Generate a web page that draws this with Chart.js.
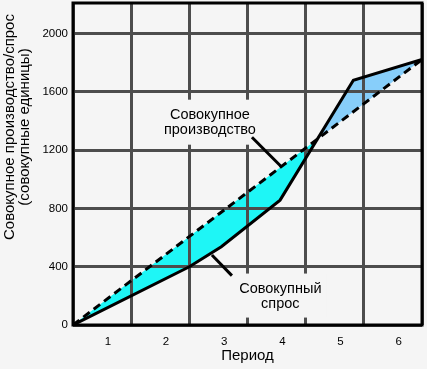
<!DOCTYPE html>
<html>
<head>
<meta charset="utf-8">
<script src="https://cdn.jsdelivr.net/npm/chart.js@4.4.0/dist/chart.umd.min.js"></script>
<style>
html, body { margin: 0; padding: 0; background: #f5f5f5; }
canvas { display: block; }
</style>
</head>
<body>
<canvas id="chart" width="427" height="369"></canvas>
<script>
// periods shown under the x axis (between grid lines)
const periods = ['1', '2', '3', '4', '5', '6'];
const yTicks = [0, 400, 800, 1200, 1600, 2000];

// aggregate production: straight dashed line
const productionX = [0, 6];
const productionY = [0, 1822];

// aggregate demand: solid broken line
const demandX = [0, 2, 2.55, 3.56, 4.82, 6];
const demandY = [0, 400, 537, 857, 1680, 1822];

const FONT = 'Liberation Sans, Arial, sans-serif';
const BG = '#f5f5f5';
const GRID = '#4d4d4d';

// callouts, anchored in data units
const notes = [
  { lines: ['Совокупное', 'производство'], x: 2.354, y: 1392, w: 100, h: 45,
    from: [3.076, 1289], to: [3.591, 1083] },
  { lines: ['Совокупный', 'спрос'], x: 3.565, y: 202, w: 92, h: 44,
    from: [2.388, 480], to: [2.732, 339] }
];

const calloutPlugin = {
  id: 'callouts',
  beforeDatasetsDraw(chart) {
    const ctx = chart.ctx;
    const xs = chart.scales.x, ys = chart.scales.y;
    ctx.save();
    notes.forEach(n => {
      const cx = xs.getPixelForValue(n.x);
      const cy = ys.getPixelForValue(n.y);
      ctx.fillStyle = BG;
      ctx.fillRect(cx - n.w / 2, cy - n.h / 2, n.w, n.h);
      ctx.fillStyle = '#000';
      ctx.font = '14.5px ' + FONT;
      ctx.textAlign = 'center';
      ctx.textBaseline = 'middle';
      ctx.fillText(n.lines[0], cx, cy - 7);
      ctx.fillText(n.lines[1], cx, cy + 8);
      ctx.strokeStyle = '#000';
      ctx.lineWidth = 3;
      ctx.beginPath();
      ctx.moveTo(xs.getPixelForValue(n.from[0]), ys.getPixelForValue(n.from[1]));
      ctx.lineTo(xs.getPixelForValue(n.to[0]), ys.getPixelForValue(n.to[1]));
      ctx.stroke();
    });
    ctx.restore();
  },
  afterDatasetsDraw(chart) {
    const ctx = chart.ctx;
    const a = chart.chartArea;
    ctx.save();
    ctx.strokeStyle = '#000';
    ctx.lineWidth = 3;
    ctx.strokeRect(a.left, a.top, a.right - a.left, a.bottom - a.top);
    ctx.restore();
  },
  afterDraw(chart) {
    // two-line y axis title
    const ctx = chart.ctx;
    ctx.save();
    ctx.translate(0, 127);
    ctx.rotate(-Math.PI / 2);
    ctx.fillStyle = '#000';
    ctx.font = '15px ' + FONT;
    ctx.textAlign = 'center';
    ctx.textBaseline = 'middle';
    ctx.fillText('Совокупное производство/спрос', 0, 10);
    ctx.fillText('(совокупные единицы)', 0, 25);
    ctx.restore();
  }
};

new Chart(document.getElementById('chart'), {
  type: 'line',
  data: {
    datasets: [
      {
        label: 'Совокупное производство',
        data: productionX.map((x, i) => ({ x: x, y: productionY[i] })),
        borderColor: '#000',
        borderWidth: 3,
        borderDash: [8, 5],
        pointRadius: 0,
        tension: 0,
        fill: { target: 1, above: '#1ef6f6', below: '#87cefa' }
      },
      {
        label: 'Совокупный спрос',
        data: demandX.map((x, i) => ({ x: x, y: demandY[i] })),
        borderColor: '#000',
        borderWidth: 3,
        pointRadius: 0,
        tension: 0,
        fill: false
      }
    ]
  },
  options: {
    responsive: false,
    animation: false,
    devicePixelRatio: 1,
    layout: { padding: { top: 3, right: 5, left: 0, bottom: 0 } },
    plugins: {
      legend: { display: false },
      tooltip: { enabled: false },
      filler: { drawTime: 'beforeDraw' }
    },
    scales: {
      x: {
        type: 'linear',
        position: 'bottom',
        min: 0,
        max: 6,
        ticks: { display: false, stepSize: 1 },
        grid: { color: GRID, lineWidth: 3, drawTicks: false },
        border: { display: false },
        afterFit(s) { s.height = 0; s.paddingLeft = 0; s.paddingRight = 0; }
      },
      xl: {
        type: 'linear',
        position: 'bottom',
        min: 0,
        max: 6,
        grid: { display: false, drawTicks: false },
        border: { display: false },
        afterBuildTicks(s) { s.ticks = periods.map((p, i) => ({ value: i + 0.6 })); },
        ticks: {
          autoSkip: false,
          maxRotation: 0,
          padding: 10,
          color: '#000',
          font: { family: FONT, size: 11.5 },
          callback: (v, i) => periods[i]
        },
        title: {
          display: true,
          text: 'Период',
          color: '#000',
          font: { family: FONT, size: 15 },
          padding: { top: 0, bottom: 4 }
        },
        afterFit(s) { s.height = 44; s.paddingLeft = 0; s.paddingRight = 0; }
      },
      y: {
        type: 'linear',
        min: 0,
        max: 2210,
        afterBuildTicks(s) { s.ticks = yTicks.map(v => ({ value: v })); },
        ticks: {
          padding: 5,
          color: '#000',
          font: { family: FONT, size: 11.5 },
          callback: v => String(v)
        },
        grid: { color: GRID, lineWidth: 3, drawTicks: false },
        border: { display: false },
        afterFit(s) { s.width = 73; s.paddingTop = 0; s.paddingBottom = 0; }
      }
    }
  },
  plugins: [calloutPlugin]
});
</script>
</body>
</html>
